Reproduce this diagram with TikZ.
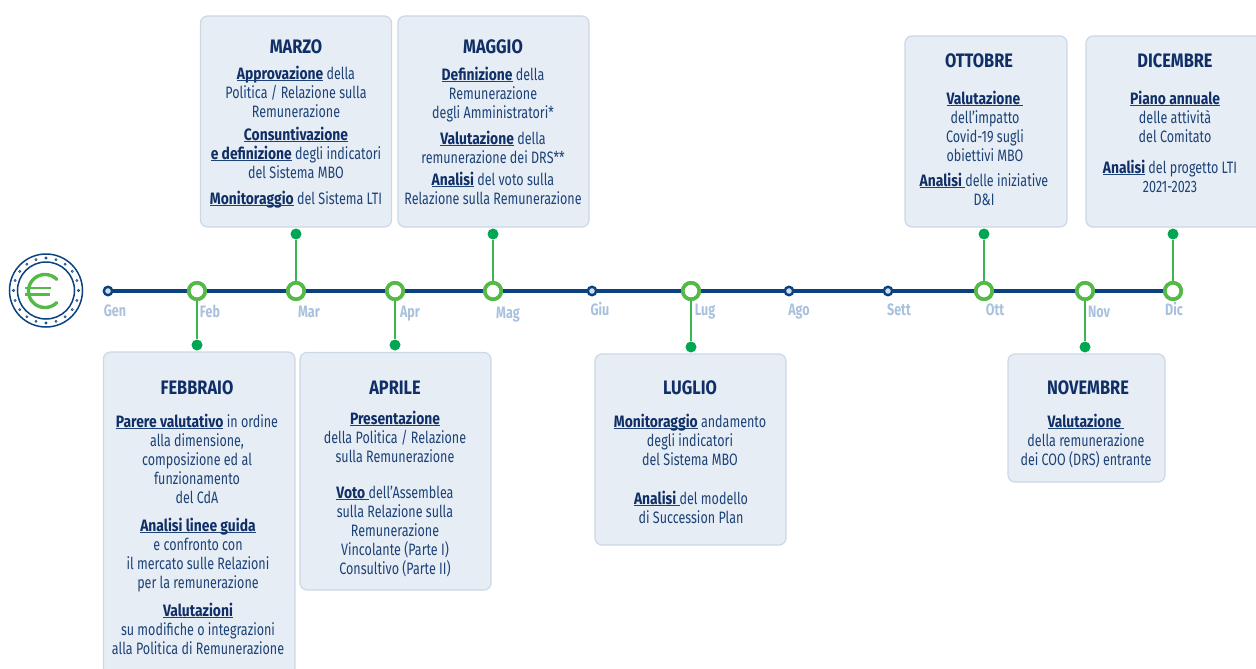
\documentclass[tikz,border=0pt]{standalone}
\usepackage{fontspec}
\usetikzlibrary{calc}
\setmainfont{Fira Sans}[FakeStretch=0.76,BoldFeatures={FakeStretch=0.84}]
\newfontfamily\monfont{Fira Sans}[FakeStretch=0.76]
\definecolor{navy}{HTML}{0A4280}
\definecolor{body}{HTML}{1C4278}
\definecolor{title}{HTML}{0F2F66}
\definecolor{boxfill}{HTML}{E7EDF5}
\definecolor{boxline}{HTML}{CBD8E6}
\definecolor{ringgreen}{HTML}{55B947}
\definecolor{stemgreen}{HTML}{3CB64F}
\definecolor{dotgreen}{HTML}{00A651}
\definecolor{monthc}{HTML}{A9C1DE}
\definecolor{dotfill}{HTML}{CFDDEE}
\newcommand\ul[1]{\rule{0pt}{13.5pt}\underline{\smash{\textcolor{title}{\textbf{#1}}}}}
\tikzset{x=1pt,y=-1pt,
  card/.style={draw=boxline,line width=1.2pt,fill=boxfill,rounded corners=7pt},
  head/.style={font=\fontsize{19.5}{22}\selectfont\bfseries,text=title,inner sep=0pt,anchor=center},
  para/.style={font=\fontsize{16.5}{19}\selectfont,text=body,inner sep=0pt,align=center,anchor=north,yshift=-1pt},
  mon/.style={font=\monfont\fontsize{16.5}{18}\selectfont\bfseries,text=monthc,inner sep=0pt,anchor=base},
  big/.style={circle,draw=ringgreen,line width=3.6pt,fill=white,minimum size=16.4pt,inner sep=0pt},
  small/.style={circle,draw=navy,line width=2.4pt,fill=dotfill,minimum size=8.4pt,inner sep=0pt},
  pin/.style={circle,fill=dotgreen,minimum size=11pt,inner sep=0pt},
  stem/.style={draw=stemgreen,line width=1.3pt},
}
\begin{document}
\begin{tikzpicture}
\useasboundingbox (0,0) rectangle (1256,669);
% axis
\coordinate (start) at (108,291);
\coordinate (end) at (1173,291);
\draw[navy,line width=3.8pt] (start) -- (end);
\node[small] (gen) at (108,291) {};
\node[big] (feb) at (197,291) {};
\node[big] (mar) at (296,291) {};
\node[big] (apr) at (395,291) {};
\node[big] (mag) at (493,291) {};
\node[small] (giu) at (592,291) {};
\node[big] (lug) at (691,291) {};
\node[small] (ago) at (789,291) {};
\node[small] (set) at (888,291) {};
\node[big] (ott) at (984,291) {};
\node[big] (nov) at (1085,291) {};
\node[big] (dic) at (1173,291) {};
\foreach \n/\x/\y/\t in {a/115/316/Gen,b/210/317/Feb,c/309/317/Mar,d/410/317/Apr,e/508/318/Mag,f/600/315/Giu,g/705/315/Lug,h/799/315/Ago,i/899/315/Sett,j/995/315/Ott,k/1099/317/Nov,l/1174/315/Dic}
  \node[mon] (m\n) at (\x,\y) {\t};
% pins
\node[pin] (pfeb) at (197,345) {};
\node[pin] (pmar) at (296,234) {};
\node[pin] (papr) at (395,345) {};
\node[pin] (pmag) at (493,234) {};
\node[pin] (plug) at (691,347) {};
\node[pin] (pott) at (984,234) {};
\node[pin] (pnov) at (1085,347) {};
\node[pin] (pdic) at (1173,234) {};
\foreach \a/\b in {feb/pfeb,mar/pmar,apr/papr,mag/pmag,lug/plug,ott/pott,nov/pnov,dic/pdic}
  \draw[stem] (\a) -- (\b);
\foreach \a in {feb,mar,apr,mag,lug,ott,nov,dic}
  \node[big] at (\a) {};
% cards
\draw[card] (200.5,16) rectangle (391.5,227);
\draw[card] (398,16) rectangle (589,227);
\draw[card] (905,36) rectangle (1067,227);
\draw[card] (1086,36) rectangle (1270,227);
\draw[card] (103.5,352) rectangle (295,690);
\draw[card] (300,352.5) rectangle (491,590);
\draw[card] (595,354) rectangle (786,545);
\draw[card] (1008,354) rectangle (1165,482);
% marzo
\node[head] (t1) at (296,47) {MARZO};
\node[para] (p1a) at (296,64.5) {\ul{Approvazione} della\\Politica / Relazione sulla\\Remunerazione};
\node[para] (p1b) at (296,125.5) {\ul{Consuntivazione}\\\ul{e definizione} degli indicatori\\del Sistema MBO};
\node[para] (p1c) at (296,189.5) {\ul{Monitoraggio} del Sistema LTI};
% maggio
\node[head] (t2) at (493,47) {MAGGIO};
\node[para] (p2a) at (493,65.5) {\ul{Definizione} della\\Remunerazione\\degli Amministratori*};
\node[para] (p2b) at (493,129.5) {\ul{Valutazione} della\\remunerazione dei DRS**};
\node[para] (p2c) at (493,170.5) {\ul{Analisi} del voto sulla\\Relazione sulla Remunerazione};
% ottobre
\node[head] (t3) at (979,61) {OTTOBRE};
\node[para] (p3a) at (985,89.5) {\ul{Valutazione }\\dell'impatto\\Covid-19 sugli\\obiettivi MBO};
\node[para] (p3b) at (984,171.5) {\ul{Analisi }delle iniziative\\D\&I};
% dicembre
\node[head] (t4) at (1175,61) {DICEMBRE};
\node[para] (p4a) at (1175,89.5) {\ul{Piano annuale}\\delle attività\\del Comitato};
\node[para] (p4b) at (1170,158.5) {\ul{Analisi} del progetto LTI\\2021-2023};
% febbraio
\node[head] (t5) at (197,388) {FEBBRAIO};
\node[para] (p5a) at (197,412.5) {\ul{Parere valutativo} in ordine\\alla dimensione,\\composizione ed al\\funzionamento\\del CdA};
\node[para] (p5b) at (198,516.5) {\ul{Analisi linee guida}\\e confronto con\\il mercato sulle Relazioni\\per la remunerazione};
\node[para] (p5c) at (198,601.5) {\ul{Valutazioni}\\su modifiche o integrazioni\\alla Politica di Remunerazione};
% aprile
\node[head] (t6) at (395,388) {APRILE};
\node[para] (p6a) at (395,409.5) {\ul{Presentazione}\\della Politica / Relazione\\sulla Remunerazione};
\node[para] (p6b) at (395,483.5) {\ul{Voto }dell'Assemblea\\sulla Relazione sulla\\Remunerazione\\Vincolante (Parte I)\\Consultivo (Parte II)};
% luglio
\node[head] (t7) at (690,388) {LUGLIO};
\node[para] (p7a) at (690,412.5) {\ul{Monitoraggio} andamento\\degli indicatori\\del Sistema MBO};
\node[para] (p7b) at (691,489.5) {\ul{Analisi }del modello\\di Succession Plan};
% novembre
\node[head] (t8) at (1088,388) {NOVEMBRE};
\node[para] (p8a) at (1086,412.5) {\ul{Valutazione }\\della remunerazione\\dei COO (DRS) entrante};
% coin
\coordinate (coin) at (46,290.5);
\draw[navy,line width=1.5pt] (coin) circle (36.5);
\draw[navy,line width=1.5pt] (coin) circle (28.5);
\foreach \k in {0,18,...,342}
  \draw[navy,line width=.6pt,fill=dotfill] ($(coin)+(\k:32.5)$) circle (1.1);
\draw[ringgreen,line width=3.4pt,line cap=round] plot[domain=45:315,samples=40,smooth] ({45+16.5*cos(\x)},{291+16.5*sin(\x)});
\draw[ringgreen,line width=2.8pt] (25,288) -- (51,288);
\draw[ringgreen,line width=2.8pt] (25,294.5) -- (50,294.5);
\end{tikzpicture}
\end{document}
